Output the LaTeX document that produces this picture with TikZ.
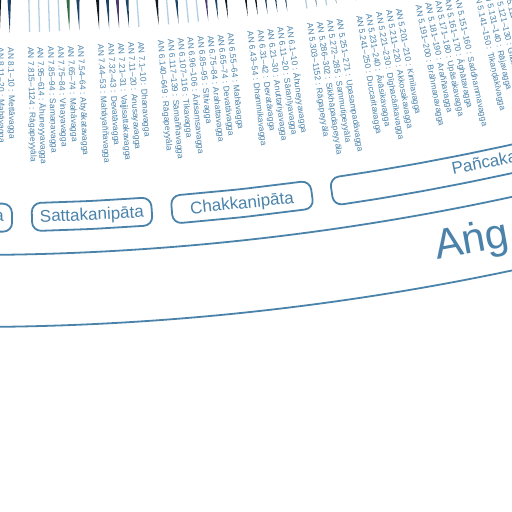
\documentclass[tikz,border=0pt]{standalone}
\usepackage{fontspec}
\setmainfont{Liberation Sans}
\definecolor{sb}{HTML}{4A82AA}
\definecolor{lb}{HTML}{B3D0E2}
\definecolor{dk}{HTML}{111A22}
\definecolor{nv}{HTML}{1D4468}
\definecolor{pu}{HTML}{4C3B6E}
\definecolor{gr}{HTML}{2F6B44}
\tikzset{
 lbl/.style={font=\fontsize{8.4}{9}\selectfont, text=sb, inner sep=0pt, anchor=west},
 boxline/.style={draw=sb, line width=1.8pt, rounded corners=9pt},
 boxtxt/.style={font=\fontsize{17}{20}\selectfont, text=sb, inner sep=0pt},
 bandline/.style={draw=sb, line width=1.8pt},
 bigtxt/.style={font=\fontsize{42}{48}\selectfont, text=sb, inner sep=0pt, anchor=base west},
}
\newcommand\nipbox[3]{%
 \draw[boxline] plot[domain=#1:#2, samples=#3] ({-90+\x}:2532) -- plot[domain=#2:#1, samples=#3] ({-90+\x}:2504) -- cycle;}
\begin{document}
\begin{tikzpicture}[x=1pt,y=1pt]
\useasboundingbox (0,-512) rectangle (512,0);
\clip (0,-512) rectangle (512,0);
\begin{scope}[shift={(-30,2300)}]
 % band of the Nikaya
 \draw[bandline] (-96:2555) arc[start angle=-96, end angle=-68, radius=2555];
 \draw[bandline] (-96:2627) arc[start angle=-96, end angle=-68, radius=2627];
 \node[bigtxt, rotate=10.34] (nik) at ({-90+10.34}:2602) {Aṅg};
 % nipata boxes
 \nipbox{-4}{0.956}{4}
 \nipbox{1.411}{4.141}{3}
 \nipbox{4.597}{7.805}{3}
 \nipbox{8.26}{16.5}{9}
 \node[boxtxt, anchor=base east, rotate=0.8] (attha) at ({-90+0.772}:2522) {a};
 \node[boxtxt, anchor=base, rotate=2.776] (satta) at ({-90+2.776}:2523) {Sattakanipāta};
 \node[boxtxt, anchor=base, rotate=6.2] (chakka) at ({-90+6.2}:2523.5) {Chakkanipāta};
 \node[boxtxt, anchor=base west, rotate=11.5] (panca) at ({-90+11.04}:2521.7) {Pañcaka};
 % sutta lines
 \foreach \k/\c/\w in {3/dk/1,4/nv/1,6/lb/0,7/lb/0,8/lb/0,9/lb/0,10/gr/1,11/nv/1,13/dk/1,14/nv/1,15/pu/1,16/nv/1,17/lb/0,19/dk/1,20/lb/0,21/nv/1,22/lb/0,23/lb/0,24/pu/1,25/nv/1,26/dk/1,28/dk/1,29/dk/1,30/nv/1,31/nv/1,32/nv/1,34/lb/0,35/nv/1,36/lb/0,37/nv/1,39/dk/1,40/nv/1}{
  \pgfmathsetmacro\a{-90+\k*0.2443}
  \ifnum\w=1
   \fill[\c] (\a:2333) -- ({\a-0.11}:2250) -- ({\a+0.11}:2250) -- cycle;
  \else
   \draw[\c, line width=1.3pt] (\a:2333) -- (\a:2250);
  \fi
 }
 % vagga labels
 \foreach \k/\t in {3/{AN 8.11–20 : Mahāvagga},4/{AN 8.1–10 : Mettāvagga},
  6/{AN 7.815–1124 : Rāgapeyyāla},7/{AN 7.95–614 : Āhuneyyavagga},8/{AN 7.85–94 : Samaṇavagga},9/{AN 7.75–84 : Vinayavagga},10/{AN 7.65–74 : Mahāvagga},11/{AN 7.54–64 : Abyākatavagga},
  13/{AN 7.44–53 : Mahāyaññavagga},14/{AN 7.32–43 : Devatāvagga},15/{AN 7.21–31 : Vajjisattakavagga},16/{AN 7.11–20 : Anusayavagga},17/{AN 7.1–10 : Dhanavagga},
  19/{AN 6.140–649 : Rāgapeyyāla},20/{AN 6.117–139 : Sāmaññavagga},21/{AN 6.107–116 : Tikavagga},22/{AN 6.96–106 : Ānisaṃsavagga},23/{AN 6.85–95 : Sītivagga},24/{AN 6.75–84 : Arahattavagga},25/{AN 6.65–74 : Devatāvagga},26/{AN 6.55–64 : Mahāvagga},
  28/{AN 6.43–54 : Dhammikavagga},29/{AN 6.31–42 : Devatāvagga},30/{AN 6.21–30 : Anuttariyavagga},31/{AN 6.11–20 : Sāraṇīyavagga},32/{AN 6.1–10 : Āhuneyyavagga},
  34/{AN 5.303–1152 : Rāgapeyyāla},35/{AN 5.286–302 : Sikkhāpadapeyyāla},36/{AN 5.272–285 : Sammutipeyyāla},37/{AN 5.251–271 : Upasampadāvagga},
  39/{AN 5.241–250 : Duccaritavagga},40/{AN 5.231–240 : Āvāsikavagga},41/{AN 5.221–230 : Dīghacārikavagga},42/{AN 5.211–220 : Akkosakavagga},43/{AN 5.201–210 : Kimilavagga},
  45/{AN 5.191–200 : Brāhmaṇavagga},46/{AN 5.181–190 : Araññavagga},47/{AN 5.171–180 : Upāsakavagga},48/{AN 5.161–170 : Āghātavagga},49/{AN 5.151–160 : Saddhammavagga},
  51/{AN 5.141–150 : Tikaṇḍakīvagga},52/{AN 5.131–140 : Rājavagga},53/{AN 5.121–130 : Gilānavagga},54/{AN 5.111–120 : Andhakavindavagga}}{
  \pgfmathsetmacro\a{-90+\k*0.2443}
  \node[lbl, rotate=\a] (L\k) at (\a:2348) {\t};
 }
\end{scope}
\end{tikzpicture}
\end{document}
